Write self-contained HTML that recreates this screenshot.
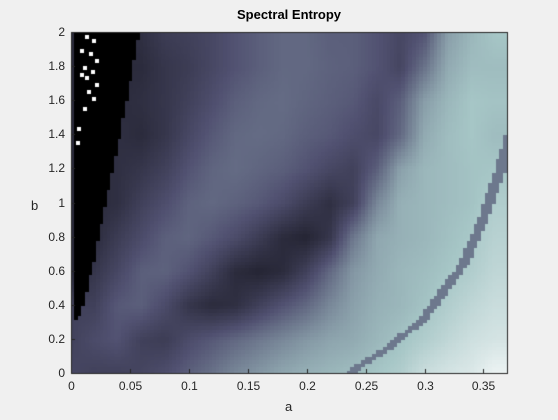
<!DOCTYPE html>
<html><head><meta charset="utf-8">
<style>
body{margin:0;width:558px;height:420px;background:#f0f0f0;font-family:"Liberation Sans",sans-serif;overflow:hidden;position:relative}
.t{position:absolute;font-size:12px;color:#262626;white-space:nowrap}
</style></head><body>
<div class="t" style="left:0;width:578px;text-align:center;top:7px;font-weight:bold;font-size:13px;color:#000">Spectral Entropy</div>
<canvas id="c" width="558" height="420" style="position:absolute;left:0;top:0"></canvas>
<div id="lab"></div>
<div class="t" style="left:285px;top:399px;font-size:13px">a</div>
<div class="t" style="left:31px;top:198px;font-size:13px">b</div>
<script>
const aVals=[0,0.02,0.04,0.06,0.08,0.10,0.12,0.14,0.16,0.18,0.20,0.22,0.24,0.26,0.28,0.30,0.32,0.34,0.36];
const bVals=[2.0,1.8,1.6,1.4,1.2,1.0,0.8,0.6,0.4,0.2,0.0];
const row0=[0.2,0.2,0.2,0.22,0.28,0.3,0.33,0.38,0.42,0.45,0.45,0.42,0.42,0.38,0.33,0.38,0.62,0.7,0.75];
const row1=[0.2,0.2,0.2,0.2,0.25,0.28,0.33,0.38,0.42,0.45,0.45,0.43,0.42,0.38,0.32,0.48,0.66,0.72,0.72];
const row2=[0.2,0.2,0.2,0.22,0.25,0.3,0.36,0.42,0.45,0.46,0.44,0.42,0.4,0.34,0.42,0.62,0.7,0.75,0.74];
const row3=[0.2,0.2,0.22,0.2,0.25,0.33,0.4,0.45,0.46,0.45,0.42,0.4,0.36,0.33,0.45,0.66,0.72,0.75,0.72];
const row4=[0.2,0.2,0.22,0.25,0.3,0.38,0.44,0.46,0.44,0.42,0.38,0.33,0.3,0.42,0.63,0.7,0.72,0.74,0.75];
const row5=[0.2,0.2,0.22,0.3,0.36,0.43,0.45,0.43,0.4,0.35,0.28,0.22,0.3,0.55,0.68,0.7,0.72,0.74,0.78];
const row6=[0.2,0.2,0.28,0.35,0.42,0.44,0.4,0.35,0.28,0.2,0.17,0.25,0.5,0.65,0.68,0.7,0.73,0.76,0.8];
const row7=[0.2,0.25,0.33,0.42,0.43,0.38,0.3,0.2,0.17,0.2,0.3,0.45,0.6,0.66,0.7,0.72,0.75,0.78,0.82];
const row8=[0.3,0.3,0.4,0.42,0.35,0.25,0.2,0.22,0.3,0.38,0.45,0.55,0.63,0.68,0.7,0.74,0.78,0.82,0.85];
const row9=[0.3,0.35,0.38,0.3,0.28,0.35,0.4,0.45,0.5,0.55,0.6,0.64,0.66,0.7,0.74,0.78,0.82,0.86,0.88];
const row10=[0.33,0.3,0.3,0.32,0.36,0.42,0.48,0.55,0.6,0.65,0.68,0.7,0.72,0.75,0.78,0.85,0.88,0.9,0.95];
const grid=[row0,row1,row2,row3,row4,row5,row6,row7,row8,row9,row10];
// right edge (in a) of black wedge at each b in bVals
const wedgeEdge=[0.058,0.053,0.048,0.042,0.036,0.030,0.024,0.018,0.011,0.0,0.0];
// grey arc in the light region
const arcB=[0.0,0.05,0.15,0.32,0.64,0.9,1.19,1.45];
const arcA=[0.238,0.246,0.269,0.299,0.333,0.35,0.364,0.375];
const arcVal=0.5;
// white speckles inside the black wedge
const speckA=[0.012,0.018,0.008,0.015,0.02,0.01,0.017,0.012,0.02,0.008,0.014,0.018,0.01,0.005,0.004];
const speckB=[1.98,1.96,1.9,1.88,1.84,1.8,1.78,1.74,1.7,1.76,1.66,1.62,1.56,1.44,1.36];
const xTicks=[0,0.05,0.1,0.15,0.2,0.25,0.3,0.35];
const xTickLabels=["0","0.05","0.1","0.15","0.2","0.25","0.3","0.35"];
const yTicks=[0,0.2,0.4,0.6,0.8,1,1.2,1.4,1.6,1.8,2];
const yTickLabels=["0","0.2","0.4","0.6","0.8","1","1.2","1.4","1.6","1.8","2"];

const L=71,R=507,T=32,B=373,AMAX=0.37,BMAX=2;
const xs=a=>L+a/AMAX*(R-L);
const ys=b=>B-b/BMAX*(B-T);
function bone(v){
  const st=[[0,0,0,0],[0.375,81,81,113],[0.75,166,198,198],[1,255,255,255]];
  v=Math.max(0,Math.min(1,v));
  for(let i=1;i<st.length;i++){if(v<=st[i][0]){const p=st[i-1],q=st[i],t=(v-p[0])/(q[0]-p[0]);
    return 'rgb('+[1,2,3].map(k=>Math.round(p[k]+t*(q[k]-p[k]))).join(',')+')';}}
}
function interp1(xsArr,ysArr,x){
  for(let i=1;i<xsArr.length;i++){
    const x0=xsArr[i-1],x1=xsArr[i];
    if((x>=Math.min(x0,x1))&&(x<=Math.max(x0,x1))){const t=(x-x0)/(x1-x0);return ysArr[i-1]+t*(ysArr[i]-ysArr[i-1]);}
  }
  return null;
}
function val(a,b){
  let fi=(a-aVals[0])/(aVals[1]-aVals[0]);fi=Math.max(0,Math.min(aVals.length-1.001,fi));
  let fj=(bVals[0]-b)/(bVals[0]-bVals[1]);fj=Math.max(0,Math.min(bVals.length-1.001,fj));
  const i=Math.floor(fi),j=Math.floor(fj),u=fi-i,w=fj-j;
  let v=grid[j][i]*(1-u)*(1-w)+grid[j][i+1]*u*(1-w)+grid[j+1][i]*(1-u)*w+grid[j+1][i+1]*u*w;
  const we=interp1(bVals,wedgeEdge,b);
  if(b>0.32&&a>0.0025&&we!==null&&a<we)v=0;
  const aa=interp1(arcB,arcA,b);
  if(aa!==null&&Math.abs(a-aa)<0.0045)v=arcVal;
  return v;
}
const c=document.getElementById('c').getContext('2d');
const NA=120,NB=100;
for(let i=0;i<NA;i++){for(let j=0;j<NB;j++){
  const a0=i*AMAX/NA,a1=(i+1)*AMAX/NA,b0=j*BMAX/NB,b1=(j+1)*BMAX/NB;
  c.fillStyle=bone(val((a0+a1)/2,(b0+b1)/2));
  const x=xs(a0),y=ys(b1);
  c.fillRect(Math.floor(x),Math.floor(y),Math.ceil(xs(a1)-x)+1,Math.ceil(ys(b0)-y)+1);
}}
c.fillStyle='#fff';
speckA.forEach((a,k)=>{c.fillRect(Math.round(xs(a)),Math.round(ys(speckB[k])),4,4);});
c.strokeStyle='#262626';c.lineWidth=1;
c.strokeRect(L+0.5,T+0.5,R-L,B-T);
const lab=document.getElementById('lab');
xTicks.forEach((t,k)=>{
  const x=Math.round(xs(t))+0.5;
  c.beginPath();c.moveTo(x,B);c.lineTo(x,B-4);c.stroke();
  const d=document.createElement('div');d.className='t';
  
  
  d.textContent=xTickLabels[k];d.style.left=(x-30)+'px';d.style.width='60px';d.style.textAlign='center';d.style.top=(B+6)+'px';
  lab.appendChild(d);
});
yTicks.forEach((t,k)=>{
  const y=Math.round(ys(t))+0.5;
  c.beginPath();c.moveTo(L,y);c.lineTo(L+4,y);c.stroke();
  const d=document.createElement('div');d.className='t';
  
  
  d.textContent=yTickLabels[k];d.style.left=(L-66)+'px';d.style.width='60px';d.style.textAlign='right';d.style.top=(y-8)+'px';
  lab.appendChild(d);
});
</script>
</body></html>
